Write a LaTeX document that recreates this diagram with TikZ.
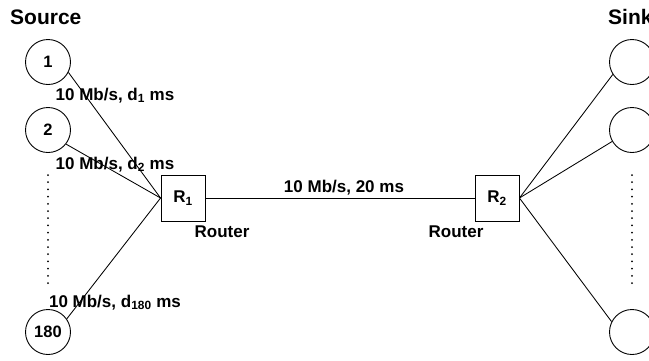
\documentclass[tikz,border=0pt]{standalone}
\usepackage{fontspec}
\setmainfont{Liberation Sans}
\begin{document}
\begin{tikzpicture}[x=1pt,y=-1pt,
  host/.style={circle,draw,line width=0.9pt,minimum size=45pt,inner sep=0pt,font=\fontsize{16.5}{16.5}\selectfont\bfseries},
  router/.style={draw,line width=0.9pt,minimum width=44pt,minimum height=46pt,inner sep=0pt,font=\fontsize{17}{17}\selectfont\bfseries},
  lbl/.style={font=\fontsize{17}{17}\selectfont\bfseries,inner sep=0pt,anchor=base},
  title/.style={font=\fontsize{21}{21}\selectfont\bfseries,inner sep=0pt,anchor=base west},
  link/.style={line width=0.85pt},
  dots/.style={line width=2pt,line cap=round,dash pattern=on 0pt off 7.2pt}]
\useasboundingbox (0,0) rectangle (649,360);
% titles
\node[title] (src) at (10,24) {Source};
\node[title] (snk) at (608,24) {Sink};
% hosts
\node[host] (s1) at (48,62) {1};
\node[host] (s2) at (48,130) {2};
\node[host] (s180) at (48,332) {180};
\node[host] (k1) at (632,62) {};
\node[host] (k2) at (632,130) {};
\node[host] (k3) at (632,332) {};
% routers
\node[router] (r1) at (183,198) {R\textsubscript{1}};
\node[router] (r2) at (497,198) {R\textsubscript{2}};
\node[lbl] (rl1) at (222,237) {Router};
\node[lbl] (rl2) at (456,237) {Router};
% links
\draw[link] (s1.-27) -- (r1.west);
\draw[link] (s2.-38) -- (r1.west);
\draw[link] (s180.35) -- (r1.west);
\draw[link] (r1.east) -- (r2.west);
\draw[link] (r2.east) -- (k1.213);
\draw[link] (r2.east) -- (k2.210);
\draw[link] (r2.east) -- (k3.153);
% link labels
\node[lbl] (l1) at (115,100) {10 Mb/s, d\textsubscript{1} ms};
\node[lbl] (l2) at (115,169) {10 Mb/s, d\textsubscript{2} ms};
\node[lbl] (l180) at (115,307) {10 Mb/s, d\textsubscript{180} ms};
\node[lbl] (lb) at (344,192) {10 Mb/s, 20 ms};
% dotted ellipses
\coordinate (da) at (48,175);
\coordinate (db) at (48,283);
\coordinate (dc) at (632,175);
\coordinate (dd) at (632,283);
\draw[dots] (da) -- (db);
\draw[dots] (dc) -- (dd);
\end{tikzpicture}
\end{document}
